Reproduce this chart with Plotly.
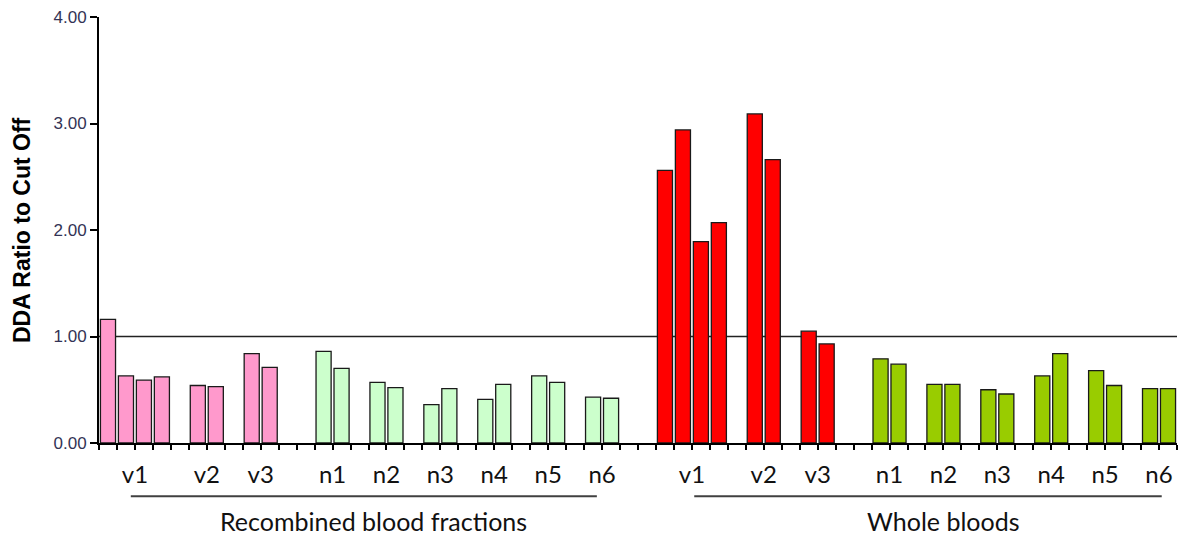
import plotly.graph_objects as go

# ---- data ----
categories = ["v1", "v2", "v3", "n1", "n2", "n3", "n4", "n5", "n6"]
recombined_values = [
    [1.16, 0.63, 0.59, 0.62],
    [0.54, 0.53],
    [0.84, 0.71],
    [0.86, 0.70],
    [0.57, 0.52],
    [0.36, 0.51],
    [0.41, 0.55],
    [0.63, 0.57],
    [0.43, 0.42],
]
whole_values = [
    [2.56, 2.94, 1.89, 2.07],
    [3.09, 2.66],
    [1.05, 0.93],
    [0.79, 0.74],
    [0.55, 0.55],
    [0.50, 0.46],
    [0.63, 0.84],
    [0.68, 0.54],
    [0.51, 0.51],
]
section_names = ["Recombined blood fractions", "Whole bloods"]
cutoff = 1.0
y_ticks = [0, 1, 2, 3, 4]

# colours: (viral, normal) per section
section_colors = [("#FF99CC", "#CCFFCC"), ("#FF0000", "#99CC00")]

# ---- layout of slots ----
traces = []
tick_vals, tick_text = [], []
section_spans = []
pos = 0
for s, (name, groups) in enumerate(zip(section_names, [recombined_values, whole_values])):
    if s > 0:
        pos += 2
    start = pos
    for g, (cat, vals) in enumerate(zip(categories, groups)):
        if g > 0:
            pos += 2 if (cat.startswith("n") and categories[g - 1].startswith("v")) else 1
        xs = list(range(pos, pos + len(vals)))
        color = section_colors[s][0] if cat.startswith("v") else section_colors[s][1]
        traces.append(go.Bar(
            x=xs, y=vals, width=0.84,
            marker=dict(color=color, line=dict(color="#1a1a1a", width=1.3)),
            showlegend=False, hoverinfo="y",
        ))
        tick_vals.append(pos + (len(vals) - 1) / 2)
        tick_text.append(cat)
        pos += len(vals)
    section_spans.append((start, pos - 1))

n_slots = pos

fig = go.Figure(traces)

plot_h = 535 - 17 - 91.7

shapes = [dict(type="line", xref="x domain", yref="y", x0=0, x1=1, y0=cutoff, y1=cutoff,
               line=dict(color="#222222", width=1.5), layer="below")]
annotations = []
line_y = -(496.7 - 443.3) / plot_h
label_y = -(521 - 443.3) / plot_h
line_insets = [(1.27, 0.79), (1.63, 0.35)]
label_shifts = [10, 15]
for (a, b), name, (ia, ib), sh in zip(section_spans, section_names, line_insets, label_shifts):
    shapes.append(dict(type="line", xref="x", yref="paper", x0=a + ia, x1=b - ib,
                       y0=line_y, y1=line_y, line=dict(color="#404040", width=2)))
    annotations.append(dict(x=(a + ia + b - ib) / 2, xref="x", xshift=sh, y=label_y, yref="paper",
                            text=name, showarrow=False, xanchor="center", yanchor="middle",
                            font=dict(family="Lato, Liberation Sans, sans-serif", size=25, color="#111111")))

annotations.append(dict(x=0, xref="paper", xshift=-77, y=0.5, yref="paper",
                        text="<b>DDA Ratio to Cut Off</b>", textangle=-90, showarrow=False,
                        xanchor="center", yanchor="middle",
                        font=dict(family="Liberation Sans, Arial, sans-serif", size=23, color="#000000")))

fig.update_layout(
    width=1186, height=535,
    margin=dict(l=99.3, r=9, t=17, b=91.7),
    paper_bgcolor="white", plot_bgcolor="white",
    bargap=0.16,
    shapes=shapes, annotations=annotations,
    xaxis=dict(
        range=[-0.5, n_slots - 0.5],
        tickmode="array", tickvals=tick_vals, ticktext=tick_text,
        ticks="outside", ticklen=5, tickwidth=1.5, tickcolor="#000000",
        minor=dict(tickmode="linear", tick0=-0.5, dtick=1, ticks="outside", ticklen=5,
                   tickwidth=1.5, tickcolor="#000000", showgrid=False),
        ticklabelstandoff=4,
        showline=True, linecolor="#000000", linewidth=2,
        showgrid=False, zeroline=False,
        tickfont=dict(family="Lato, Liberation Sans, sans-serif", size=24, color="#111111"),
        fixedrange=True,
    ),
    yaxis=dict(
        range=[0, 4], tickmode="array", tickvals=y_ticks, tickformat=".2f",
        ticks="outside", ticklen=7, tickwidth=1.5, tickcolor="#000000",
        showline=True, linecolor="#000000", linewidth=2,
        showgrid=False, zeroline=False,
        tickfont=dict(family="Liberation Sans, Arial, sans-serif", size=17, color="#333355"),
        fixedrange=True,
    ),
)

fig.write_html("out.html")
